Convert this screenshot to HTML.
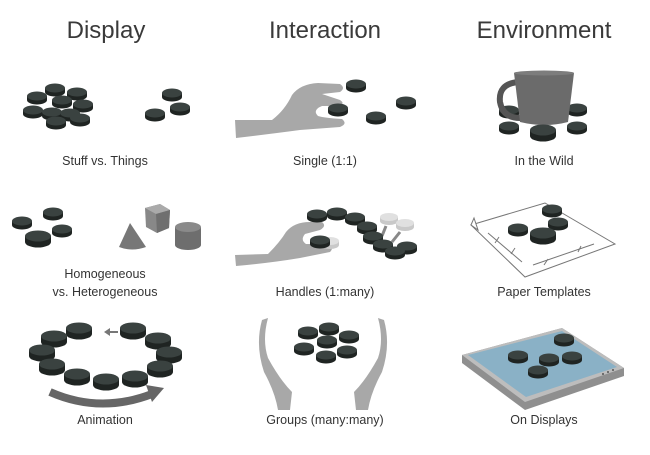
<!DOCTYPE html>
<html><head><meta charset="utf-8"><style>
html,body{margin:0;padding:0;background:#fff;}
svg{display:block;}
text{font-family:"Liberation Sans",sans-serif;fill:#333;text-anchor:middle;}
.t{font-size:24px;fill:#3a3a3a;}
.l{font-size:12.5px;}
</style></head><body>
<svg width="650" height="455" viewBox="0 0 650 455" xmlns="http://www.w3.org/2000/svg">
<defs>
<g id="d"><path d="M-10,0 v4 a10,4.5 0 0 0 20,0 v-4 z" fill="#1f2422"/><ellipse cx="0" cy="0" rx="10" ry="4.5" fill="#3a4240"/></g>
<g id="D"><path d="M-13,0 v6 a13,5.5 0 0 0 26,0 v-6 z" fill="#1f2422"/><ellipse cx="0" cy="0" rx="13" ry="5.5" fill="#3a4240"/></g>
<g id="g"><path d="M-9,0 v4 a9,4 0 0 0 18,0 v-4 z" fill="#c9c9c9"/><ellipse cx="0" cy="0" rx="9" ry="4" fill="#e0e0e0"/></g>
</defs>
<text class="t" x="106" y="38">Display</text>
<text class="t" x="325" y="38">Interaction</text>
<text class="t" x="544" y="38">Environment</text>

<!-- Stuff vs things -->
<use href="#d" x="55" y="88"/><use href="#d" x="77" y="92"/><use href="#d" x="37" y="96"/><use href="#d" x="62" y="100"/><use href="#d" x="83" y="104"/><use href="#d" x="33" y="110"/><use href="#d" x="52" y="112"/><use href="#d" x="70" y="113"/><use href="#d" x="56" y="121"/><use href="#d" x="80" y="118"/>
<use href="#d" x="172" y="93"/><use href="#d" x="180" y="107"/><use href="#d" x="155" y="113"/>
<text class="l" x="105" y="165">Stuff vs. Things</text>

<!-- Single -->
<path d="M235,120 L272,120 Q285,110 292,95 Q300,84 318,83 L340,84 Q346,88 340,92 L322,94 L340,100 Q346,104 338,106 L322,106 Q312,110 318,116 Q325,118 342,119 Q348,124 340,127 L300,130 Q270,134 236,138 Z" fill="#a8a8a8"/>
<use href="#d" x="356" y="84"/><use href="#d" x="338" y="108"/><use href="#d" x="376" y="116"/><use href="#d" x="406" y="101"/>
<text class="l" x="325" y="165">Single (1:1)</text>

<!-- In the wild -->
<use href="#d" x="509" y="110"/><use href="#d" x="577" y="108"/>
<path d="M518,82 Q498,84 500,102 Q503,118 520,118" fill="none" stroke="#555" stroke-width="6"/>
<path d="M514,73 L574,73 L568,122 Q545,128 520,122 Z" fill="#6b6b6b"/>
<ellipse cx="544" cy="73" rx="30" ry="2.5" fill="#7d7d7d"/>
<use href="#d" x="509" y="126"/><use href="#D" x="543" y="130"/><use href="#d" x="577" y="126"/>
<text class="l" x="544" y="165">In the Wild</text>

<!-- Homogeneous -->
<use href="#d" x="53" y="212"/><use href="#d" x="22" y="221"/><use href="#d" x="62" y="229"/><use href="#D" x="38" y="236"/>
<path d="M130,223 L146,247 Q132,252 119,247 Z" fill="#777"/>
<path d="M145,208 L160,204 L170,210 L169,228 L157,233 L146,227 Z" fill="#888"/><path d="M145,208 L160,204 L170,210 L156,214 Z" fill="#aaa"/><path d="M156,214 L170,210 L169,228 L157,233 Z" fill="#6f6f6f"/>
<path d="M175,227 v18 a13,5 0 0 0 26,0 v-18 z" fill="#6e6e6e"/><ellipse cx="188" cy="227" rx="13" ry="5" fill="#8a8a8a"/>
<text class="l" x="105" y="278">Homogeneous</text>
<text class="l" x="105" y="296">vs. Heterogeneous</text>

<!-- Handles -->
<path d="M235,255 L268,254 Q280,242 286,232 Q294,222 310,222 L322,222 Q327,226 320,230 L305,234 Q300,240 306,244 L330,244 Q334,248 330,252 L300,258 Q270,263 236,266 Z" fill="#a8a8a8"/>
<use href="#g" x="389" y="217"/><use href="#g" x="405" y="223"/>
<path d="M386,226 L382,236 M400,232 L392,242" stroke="#888" stroke-width="3"/>
<use href="#d" x="317" y="214"/><use href="#d" x="337" y="212"/><use href="#d" x="355" y="217"/><use href="#d" x="367" y="226"/><use href="#d" x="373" y="236"/><use href="#d" x="383" y="244"/><use href="#d" x="407" y="246"/><use href="#d" x="395" y="251"/>
<use href="#g" x="330" y="241"/><use href="#d" x="320" y="240"/>
<text class="l" x="325" y="296">Handles (1:many)</text>

<!-- Paper -->
<path d="M471,225 L545,203 L615,244 L525,277 Z" fill="#fff" stroke="#777" stroke-width="1"/>
<path d="M471,225 L474,218 L478,230 Z" fill="#fff" stroke="#777" stroke-width="1"/>
<path d="M488,233 L522,262 M495,243 L499,237 M511,254 L515,248 M533,265 L594,244 M544,265 L548,259 M578,252 L581,246" stroke="#777" stroke-width="1"/>
<use href="#d" x="552" y="209"/><use href="#d" x="558" y="222"/><use href="#d" x="518" y="228"/><use href="#D" x="543" y="233"/>
<text class="l" x="544" y="296">Paper Templates</text>

<!-- Animation -->
<path d="M50,392 Q100,414 152,394" fill="none" stroke="#666" stroke-width="8"/>
<path d="M146,385 L164,388 L152,402 Z" fill="#666"/>
<path d="M118,332 L108,332" stroke="#777" stroke-width="2"/><path d="M104,332 L110,328 L110,336 Z" fill="#777"/>
<use href="#D" x="79" y="328"/><use href="#D" x="133" y="328"/><use href="#D" x="54" y="336"/><use href="#D" x="158" y="338"/><use href="#D" x="42" y="350"/><use href="#D" x="169" y="352"/><use href="#D" x="52" y="364"/><use href="#D" x="160" y="366"/><use href="#D" x="77" y="374"/><use href="#D" x="135" y="376"/><use href="#D" x="106" y="379"/>
<text class="l" x="105" y="424">Animation</text>

<!-- Groups -->
<path d="M268,318 Q262,340 268,358 Q280,380 292,392 L290,410 L278,410 Q275,392 264,372 Q255,345 262,320 Z" fill="#a8a8a8"/>
<path d="M378,318 Q384,340 378,358 Q366,380 354,392 L356,410 L368,410 Q371,392 382,372 Q391,345 384,320 Z" fill="#a8a8a8"/>
<use href="#d" x="308" y="331"/><use href="#d" x="329" y="327"/><use href="#d" x="349" y="335"/><use href="#d" x="327" y="340"/><use href="#d" x="304" y="347"/><use href="#d" x="347" y="350"/><use href="#d" x="326" y="355"/>
<text class="l" x="325" y="424">Groups (many:many)</text>

<!-- Displays -->
<path d="M462,355 L562,328 L624,368 L624,376 L525,410 L462,363 Z" fill="#8f8f8f"/>
<path d="M462,355 L562,328 L624,368 L525,402 Z" fill="#bdbdbd"/>
<path d="M468,355 L562,331 L617,367 L526,397 Z" fill="#8ab1c6"/>
<circle cx="603" cy="374" r="1" fill="#555"/><circle cx="608" cy="372" r="1" fill="#555"/><circle cx="613" cy="370" r="1" fill="#555"/>
<use href="#d" x="564" y="338"/><use href="#d" x="518" y="355"/><use href="#d" x="549" y="358"/><use href="#d" x="572" y="356"/><use href="#d" x="538" y="370"/>
<text class="l" x="544" y="424">On Displays</text>
</svg>
</body></html>
